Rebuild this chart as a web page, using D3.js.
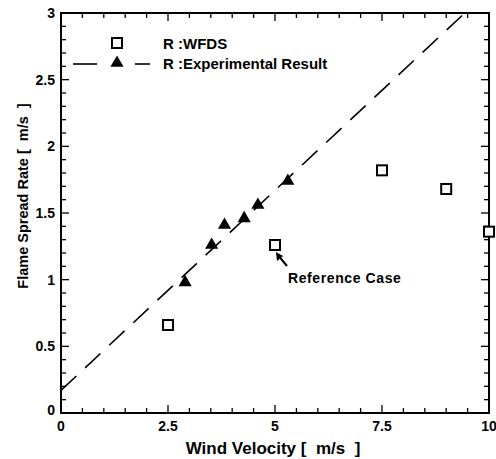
<!DOCTYPE html>
<html><head><meta charset="utf-8">
<script src="https://cdn.jsdelivr.net/npm/d3@7"></script>
<style>body{margin:0;background:#fff}svg{display:block}text{font-family:"Liberation Sans",Arial,sans-serif;font-weight:bold;fill:#000;white-space:pre}</style>
</head><body>
<script>
const wfdsX = [2.5, 5, 7.5, 9, 10];
const wfdsY = [0.66, 1.26, 1.82, 1.68, 1.36];
const expX = [2.9, 3.52, 3.82, 4.28, 4.6, 5.3];
const expY = [0.98, 1.26, 1.41, 1.46, 1.56, 1.74];
const fitLine = [[0, 0.17], [10, 3.17]];
const xTicks = [0, 2.5, 5, 7.5, 10];
const xTickLabels = ["0", "2.5", "5", "7.5", "10"];
const yTicks = [0, 0.5, 1, 1.5, 2, 2.5, 3];
const yTickLabels = ["0", "0.5", "1", "1.5", "2", "2.5", "3"];

const W = 496, H = 459;
const svg = d3.select("body").append("svg").attr("width", W).attr("height", H);
const L = 61, R = 489, T = 13, B = 413;
const x = d3.scaleLinear().domain([0, 10]).range([L, R]);
const y = d3.scaleLinear().domain([0, 3]).range([B, T]);

const defs = svg.append("defs");
defs.append("clipPath").attr("id", "clip").append("rect")
  .attr("x", L).attr("y", T).attr("width", R - L).attr("height", B - T);

// ticks (inward) on all four sides
const xMinor = d3.range(0, 10.001, 0.5);
const yMinor = d3.range(0, 3.001, 0.1);
const tk = svg.append("g").attr("stroke", "#000").attr("stroke-width", 1.3);
xMinor.forEach(v => {
  const major = Math.abs(v / 2.5 - Math.round(v / 2.5)) < 1e-6;
  const len = major ? 8 : 5;
  tk.append("line").attr("x1", x(v)).attr("x2", x(v)).attr("y1", B).attr("y2", B - len);
  tk.append("line").attr("x1", x(v)).attr("x2", x(v)).attr("y1", T).attr("y2", T + len);
});
yMinor.forEach(v => {
  const major = Math.abs(v / 0.5 - Math.round(v / 0.5)) < 1e-6;
  const len = major ? 8 : 5;
  tk.append("line").attr("y1", y(v)).attr("y2", y(v)).attr("x1", L).attr("x2", L + len);
  tk.append("line").attr("y1", y(v)).attr("y2", y(v)).attr("x1", R).attr("x2", R - len);
});

// frame
svg.append("rect").attr("x", L).attr("y", T).attr("width", R - L).attr("height", B - T)
  .attr("fill", "none").attr("stroke", "#000").attr("stroke-width", 2);

// tick labels
svg.append("g").selectAll("text").data(xTicks).join("text")
  .attr("x", d => x(d)).attr("y", B + 18).attr("text-anchor", "middle")
  .attr("font-size", 14).text((d, i) => xTickLabels[i]);
svg.append("g").selectAll("text").data(yTicks).join("text")
  .attr("x", L - 6).attr("y", d => d === 0 ? y(d) + 2 : y(d) + 5).attr("text-anchor", "end")
  .attr("font-size", 14).text((d, i) => yTickLabels[i]);

// axis titles
svg.append("text").attr("x", 273).attr("y", 454).attr("text-anchor", "middle")
  .attr("font-size", 17).text("Wind Velocity [  m/s  ]");
svg.append("text").attr("transform", "translate(28,196) rotate(-90)").attr("text-anchor", "middle")
  .attr("font-size", 14.5).text("Flame Spread Rate [  m/s  ]");

// dashed fit line
const plot = svg.append("g").attr("clip-path", "url(#clip)");
plot.append("path").datum(fitLine)
  .attr("d", d3.line().x(d => x(d[0])).y(d => y(d[1])))
  .attr("fill", "none").attr("stroke", "#000").attr("stroke-width", 1.6)
  .attr("stroke-dasharray", "21,12");

// markers
const tri = d3.symbol().type(d3.symbolTriangle).size(75);
svg.append("g").selectAll("path").data(expX).join("path")
  .attr("transform", (d, i) => `translate(${x(d)},${y(expY[i])})`)
  .attr("d", tri).attr("fill", "#000");
svg.append("g").selectAll("rect").data(wfdsX).join("rect")
  .attr("x", d => x(d) - 5).attr("y", (d, i) => y(wfdsY[i]) - 5)
  .attr("width", 10).attr("height", 10)
  .attr("fill", "#fff").attr("stroke", "#000").attr("stroke-width", 2);

// legend
const lg = svg.append("g");
lg.append("rect").attr("x", 112).attr("y", 38).attr("width", 10).attr("height", 10)
  .attr("fill", "#fff").attr("stroke", "#000").attr("stroke-width", 2);
lg.append("text").attr("x", 163).attr("y", 49).attr("font-size", 15).text("R :WFDS");
lg.append("line").attr("x1", 73).attr("x2", 97).attr("y1", 64).attr("y2", 64)
  .attr("stroke", "#000").attr("stroke-width", 1.6);
lg.append("line").attr("x1", 135).attr("x2", 150).attr("y1", 64).attr("y2", 64)
  .attr("stroke", "#000").attr("stroke-width", 1.6);
lg.append("path").attr("transform", "translate(117,63)").attr("d", tri).attr("fill", "#000");
lg.append("text").attr("x", 163).attr("y", 69).attr("font-size", 15).text("R :Experimental Result");

// annotation
const ax = x(5), ay = y(1.26);
svg.append("line").attr("x1", ax + 12).attr("y1", ay + 21).attr("x2", ax + 2).attr("y2", ay + 9)
  .attr("stroke", "#000").attr("stroke-width", 2);
svg.append("path").attr("d", `M${ax + 1},${ay + 7} L${ax + 2},${ay + 16} L${ax + 8},${ay + 11} Z`).attr("fill", "#000");
svg.append("text").attr("x", 288).attr("y", 283).attr("font-size", 14).attr("letter-spacing", 0.6).text("Reference Case");
</script>
</body></html>
